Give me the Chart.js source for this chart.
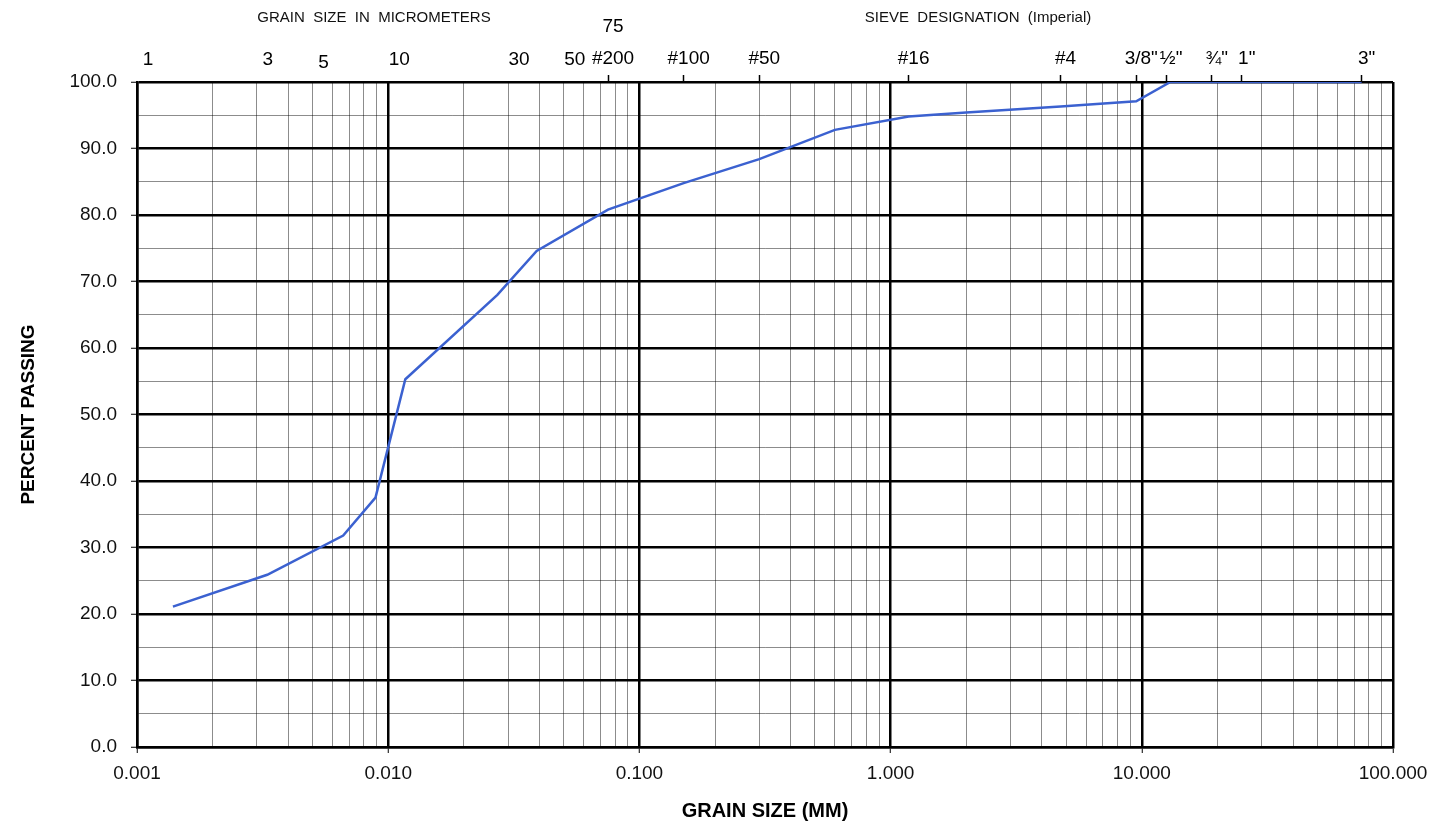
<!DOCTYPE html>
<html>
<head>
<meta charset="utf-8">
<script src="https://cdn.jsdelivr.net/npm/chart.js@4.4.1/dist/chart.umd.min.js"></script>
<style>
  html, body { margin: 0; padding: 0; background: #fff; }
  canvas { display: block; }
</style>
</head>
<body>
<canvas id="gsd" width="1449" height="821"></canvas>
<script>
// grain size distribution (mm vs % passing)
const grainSize      = [0.00139, 0.0033, 0.00662, 0.0089, 0.0117, 0.0272, 0.039, 0.075, 0.15, 0.3, 0.6, 1.18, 2.0, 4.75, 9.5, 13.0, 19.0, 25.0, 75.0];
const percentPassing = [21.1, 25.9, 31.8, 37.5, 55.3, 68.0, 74.6, 80.8, 84.8, 88.4, 92.8, 94.8, 95.4, 96.3, 97.1, 100.0, 100.0, 100.0, 100.0];

// top labels: micrometers (no tick marks) and sieve sizes (tick marks)
const micronValues = [0.001, 0.003, 0.005, 0.01, 0.03, 0.05, 0.075];
const micronLabels = ['1', '3', '5', '10', '30', '50', '75'];
const sieveValues  = [0.075, 0.15, 0.3, 1.18, 4.75, 9.5, 12.5, 19, 25, 75];
const sieveLabels  = ['#200', '#100', '#50', '#16', '#4', '3/8"', '½"', '¾"', '1"', '3"'];

const FONT = "'Liberation Sans', Arial, sans-serif";
const MINOR = 'rgba(0,0,0,0.45)';
const NONE = 'rgba(0,0,0,0)';

const isDecade = v => Math.abs(Math.log10(v) - Math.round(Math.log10(v))) < 1e-6;

// log grid: 1..9 per decade
const logGrid = [];
for (let e = -3; e <= 1; e++) for (let m = 1; m <= 9; m++) logGrid.push(+(m * Math.pow(10, e)).toPrecision(3));
logGrid.push(100);

// header texts + micrometer labels (sit a little right of their value, 75 raised above #200)
const headerPlugin = {
  id: 'headers',
  afterDraw(chart) {
    const c = chart.ctx;
    const sx = chart.scales.x;
    c.save();
    c.fillStyle = '#111';
    c.textAlign = 'center';
    c.textBaseline = 'middle';
    c.font = `15px ${FONT}`;
    c.fillText('GRAIN  SIZE  IN  MICROMETERS', 374, 18);
    c.fillText('SIEVE  DESIGNATION  (Imperial)', 978, 18);
    c.font = `19px ${FONT}`;
    c.fillStyle = '#000';
    micronValues.forEach((v, i) => {
      const x = sx.getPixelForValue(v) + (v === 0.075 ? 5 : 11);
      const y = v === 0.075 ? 27 : (v === 0.005 ? 63 : 60);
      c.fillText(micronLabels[i], x, y);
    });
    c.restore();
  },
};

new Chart(document.getElementById('gsd').getContext('2d'), {
  type: 'line',
  data: {
    datasets: [{
      data: grainSize.map((x, i) => ({ x, y: percentPassing[i] })),
      borderColor: '#3b61d0',
      borderWidth: 2.5,
      pointRadius: 0,
      tension: 0,
      fill: false,
    }],
  },
  options: {
    responsive: false,
    animation: false,
    devicePixelRatio: 1,
    layout: { padding: { left: 0, right: 56, top: 0, bottom: 0 } },
    plugins: { legend: { display: false }, tooltip: { enabled: false } },
    scales: {
      x: {
        type: 'logarithmic', position: 'bottom', min: 0.001, max: 100,
        afterBuildTicks: s => { s.ticks = logGrid.map(v => ({ value: v })); },
        afterFit: s => { s.height = 74; },
        ticks: {
          autoSkip: false, maxRotation: 0, padding: 9, color: '#111',
          font: { family: FONT, size: 19 },
          callback: v => isDecade(v) ? v.toFixed(3) : '',
        },
        grid: {
          color: c => c.tick && isDecade(c.tick.value) ? '#000' : MINOR,
          lineWidth: c => c.tick && isDecade(c.tick.value) ? 2.5 : 1,
          tickLength: 6,
          tickColor: c => c.tick && isDecade(c.tick.value) ? '#000' : NONE,
          tickWidth: 1,
        },
        border: { color: '#000', width: 2.5 },
        title: {
          display: true, text: 'GRAIN SIZE (MM)', color: '#000',
          font: { family: FONT, size: 20, weight: 'bold', lineHeight: 1 },
          padding: { top: 0, bottom: 0 },
        },
      },
      x2: {
        type: 'logarithmic', position: 'top', min: 0.001, max: 100,
        afterBuildTicks: s => { s.ticks = sieveValues.map(v => ({ value: v })); },
        afterFit: s => { s.height = 82; },
        ticks: {
          autoSkip: false, maxRotation: 0, padding: 5, labelOffset: 5, color: '#000',
          font: { family: FONT, size: 19 },
          callback: (v, i) => sieveLabels[i],
        },
        grid: {
          drawOnChartArea: false,
          tickLength: 7,
          tickColor: '#000',
          tickWidth: 1.5,
        },
        border: { display: false },
      },
      y: {
        min: 0, max: 100,
        afterFit: s => { s.width = 137; },
        ticks: {
          stepSize: 5, autoSkip: false, padding: 14, color: '#111',
          font: { family: FONT, size: 19 },
          callback: v => v % 10 === 0 ? v.toFixed(1) : '',
        },
        grid: {
          color: c => c.tick && c.tick.value % 10 === 0 ? '#000' : MINOR,
          lineWidth: c => c.tick && c.tick.value % 10 === 0 ? 2.5 : 1,
          tickLength: 6,
          tickColor: c => c.tick && c.tick.value % 10 === 0 ? '#000' : NONE,
          tickWidth: 1,
        },
        border: { color: '#000', width: 2.5 },
        title: {
          display: true, text: 'PERCENT PASSING', color: '#000',
          font: { family: FONT, size: 19, weight: 'bold' },
          padding: { top: 17, bottom: 0 },
        },
      },
    },
  },
  plugins: [headerPlugin],
});
</script>
</body>
</html>
